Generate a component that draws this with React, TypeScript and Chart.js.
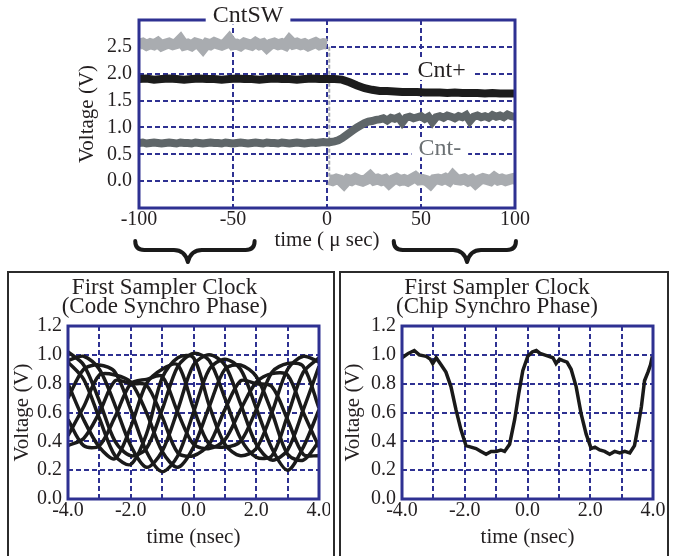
import React, { useEffect, useRef } from 'react';
import { Chart, registerables } from 'chart.js';

Chart.register(...registerables);

const NAVY = '#2e3192';
const INK = '#231f20';
const SERIF = '"Liberation Serif", "Times New Roman", Times, serif';

// ---------- Top chart data (time in µs, voltage in V) ----------
const TOP_X_MIN = -100;
const TOP_X_MAX = 100;
const TOP_Y_MIN = -0.5;
const TOP_Y_MAX = 3.0;
const TOP_Y_LABELLED = [0, 0.5, 1, 1.5, 2, 2.5];

// CntSW high state, from -100 µs every 2 µs
const SW_HIGH_START = -100;
const SW_HIGH_STEP = 2;
const SW_HIGH = [2.55, 2.57, 2.53, 2.56, 2.54, 2.58, 2.52, 2.55, 2.57, 2.54, 2.56, 2.63, 2.53, 2.55, 2.52, 2.57, 2.55,
  2.47, 2.56, 2.54, 2.58, 2.55, 2.53, 2.56, 2.64, 2.54, 2.55, 2.52, 2.57, 2.55, 2.53, 2.58, 2.54, 2.56, 2.49, 2.55,
  2.57, 2.54, 2.56, 2.53, 2.62, 2.55, 2.57, 2.54, 2.56, 2.52, 2.55, 2.58, 2.54, 2.56, 2.55];
// CntSW low state, from 1 µs every 2 µs
const SW_LOW_START = 1;
const SW_LOW_STEP = 2;
const SW_LOW = [0.03, 0.01, 0.04, 0.02, -0.05, 0.03, 0.01, 0.05, 0.02, 0.0, 0.03, 0.09, 0.02, 0.04, 0.01, 0.03, -0.04,
  0.02, 0.05, 0.01, 0.03, 0.0, 0.04, 0.08, 0.02, 0.03, 0.01, -0.05, 0.03, 0.04, 0.02, 0.05, 0.01, 0.1, 0.03, 0.02,
  0.04, 0.0, 0.03, -0.04, 0.02, 0.05, 0.03, 0.01, 0.07, 0.02, 0.04, 0.01, 0.03, 0.05, 0.02];
// CntSW switching edge
const SW_EDGE_T = [1.2, 1.2];
const SW_EDGE_V = [2.5, 0.05];

// Cnt+ from -100 µs every 4 µs
const CNTP_START = -100;
const CNTP_STEP = 4;
const CNTP = [1.9, 1.91, 1.89, 1.9, 1.91, 1.9, 1.89, 1.9, 1.91, 1.9, 1.9, 1.89, 1.9, 1.91, 1.9, 1.9, 1.89, 1.9,
  1.91, 1.9, 1.9, 1.89, 1.9, 1.91, 1.9, 1.9, 1.9, 1.89, 1.84, 1.78, 1.73, 1.7, 1.68, 1.68, 1.67, 1.66, 1.66, 1.66,
  1.65, 1.65, 1.65, 1.64, 1.65, 1.64, 1.64, 1.64, 1.63, 1.64, 1.63, 1.63, 1.63];

// Cnt- from -100 µs every 2 µs
const CNTM_START = -100;
const CNTM_STEP = 2;
const CNTM = [0.71, 0.72, 0.7, 0.71, 0.72, 0.71, 0.7, 0.71, 0.72, 0.71, 0.7, 0.72, 0.71, 0.71, 0.7, 0.72, 0.71, 0.7,
  0.71, 0.72, 0.71, 0.71, 0.7, 0.72, 0.71, 0.7, 0.71, 0.72, 0.71, 0.7, 0.71, 0.72, 0.71, 0.7, 0.72, 0.71, 0.71, 0.7,
  0.72, 0.71, 0.7, 0.71, 0.72, 0.71, 0.7, 0.71, 0.72, 0.71, 0.72, 0.73, 0.72,
  0.73, 0.74, 0.76, 0.8, 0.85, 0.9, 0.95, 1.0, 1.04, 1.08, 1.11, 1.12, 1.14, 1.15, 1.17, 1.13, 1.18, 1.16, 1.19, 1.09,
  1.18, 1.2, 1.17, 1.19, 1.21, 1.16, 1.2, 1.1, 1.19, 1.21, 1.18, 1.22, 1.2, 1.17, 1.21, 1.19, 1.23, 1.12, 1.2, 1.22,
  1.19, 1.21, 1.18, 1.23, 1.2, 1.22, 1.19, 1.24, 1.21, 1.2];

const TOP_LABELS = [
  { text: 'CntSW', x: -42, y: 3.1, color: INK },
  { text: 'Cnt+', x: 61, y: 2.07, color: INK },
  { text: 'Cnt-', x: 60, y: 0.63, color: '#6b7073' },
];
const BRACES = [
  { from: -102, to: -38.5, tip: -74 },
  { from: 35.5, to: 100.5, tip: 74.5 },
];

// ---------- Bottom-left: eye diagram, 8 traces from -4 ns every 0.5 ns ----------
const EYE_START = -4;
const EYE_STEP = 0.5;
const EYE_A = [1.02, 0.93, 0.68, 0.4, 0.3, 0.35, 0.62, 0.92, 1.01, 0.96, 0.7, 0.42, 0.29, 0.3, 0.58, 0.88, 0.98];
const EYE_B = [0.96, 0.99, 0.9, 0.65, 0.37, 0.22, 0.33, 0.62, 0.93, 1.0, 0.93, 0.66, 0.38, 0.27, 0.34, 0.62, 0.92];
const EYE_C = [0.7, 0.9, 0.93, 0.88, 0.62, 0.33, 0.19, 0.3, 0.6, 0.9, 0.97, 0.9, 0.63, 0.35, 0.2, 0.36, 0.62];
const EYE_D = [0.44, 0.64, 0.86, 0.86, 0.81, 0.6, 0.33, 0.22, 0.36, 0.64, 0.9, 0.93, 0.85, 0.6, 0.31, 0.27, 0.4];
const EYE_E = [0.37, 0.42, 0.6, 0.82, 0.8, 0.79, 0.57, 0.32, 0.3, 0.38, 0.62, 0.82, 0.8, 0.78, 0.55, 0.31, 0.3];
const EYE_F = [0.55, 0.37, 0.37, 0.57, 0.8, 0.83, 0.85, 0.6, 0.38, 0.35, 0.41, 0.62, 0.81, 0.87, 0.86, 0.6, 0.36];
const EYE_G = [0.8, 0.55, 0.36, 0.28, 0.5, 0.8, 0.9, 0.93, 0.63, 0.38, 0.36, 0.4, 0.62, 0.88, 0.94, 0.92, 0.63];
const EYE_H = [0.95, 0.83, 0.56, 0.3, 0.24, 0.45, 0.84, 0.98, 0.98, 0.65, 0.38, 0.3, 0.35, 0.6, 0.9, 0.99, 0.95];
const EYE_TRACES = [EYE_A, EYE_B, EYE_C, EYE_D, EYE_E, EYE_F, EYE_G, EYE_H];

// ---------- Bottom-right: chip synchro phase ----------
const CHIP_T = [-4.0, -3.93, -3.8, -3.61, -3.45, -3.23, -3.1, -3.02, -2.91, -2.75, -2.6, -2.44, -2.28, -2.12, -1.96,
  -1.8, -1.64, -1.48, -1.32, -1.16, -1.0, -0.85, -0.73, -0.57, -0.41, -0.28, -0.15, 0.01, 0.15, 0.28, 0.4, 0.54, 0.68,
  0.81, 0.91, 1.02, 1.13, 1.26, 1.39, 1.55, 1.71, 1.87, 2.03, 2.15, 2.3, 2.46, 2.62, 2.78, 2.94, 3.1, 3.26, 3.41, 3.52,
  3.63, 3.73, 3.84, 3.92, 3.98];
const CHIP_V = [0.98, 0.99, 1.01, 1.03, 1.0, 0.99, 0.97, 0.94, 0.98, 0.93, 0.88, 0.78, 0.62, 0.48, 0.37, 0.36, 0.35,
  0.33, 0.31, 0.33, 0.33, 0.34, 0.33, 0.38, 0.55, 0.73, 0.89, 0.99, 1.02, 1.03, 1.01, 1.0, 0.99, 0.98, 0.94, 0.97,
  0.96, 0.95, 0.9, 0.78, 0.59, 0.45, 0.35, 0.36, 0.34, 0.33, 0.31, 0.33, 0.32, 0.33, 0.32, 0.37, 0.5, 0.64, 0.82,
  0.88, 0.93, 0.99];

const BOTTOM_X_MIN = -4;
const BOTTOM_X_MAX = 4;
const BOTTOM_Y_MIN = 0;
const BOTTOM_Y_MAX = 1.2;

// ---------- helpers ----------
const stepped = (start: number, step: number, vals: number[]) => vals.map((v, i) => ({ x: start + step * i, y: v }));
const zipped = (ts: number[], vs: number[]) => ts.map((t, i) => ({ x: t, y: vs[i] }));

const framePlugin = {
  id: 'frame',
  afterDatasetsDraw(chart: any) {
    const { ctx, chartArea: a } = chart;
    ctx.save();
    ctx.strokeStyle = NAVY;
    ctx.lineWidth = 3;
    ctx.strokeRect(a.left, a.top, a.right - a.left, a.bottom - a.top);
    ctx.restore();
  },
};

const topExtrasPlugin = {
  id: 'topExtras',
  afterDraw(chart: any) {
    const { ctx, chartArea, scales } = chart;
    const xs = scales.x;
    const ys = scales.y;
    ctx.save();
    ctx.font = `24px ${SERIF}`;
    TOP_LABELS.forEach((l) => {
      const px = xs.getPixelForValue(l.x);
      const py = ys.getPixelForValue(l.y);
      const w = ctx.measureText(l.text).width + 14;
      ctx.fillStyle = '#ffffff';
      ctx.fillRect(px - w / 2, py - 10, w, 20);
      ctx.fillStyle = l.color;
      ctx.textAlign = 'center';
      ctx.textBaseline = 'middle';
      ctx.fillText(l.text, px, py + 1);
    });
    const yTop = chartArea.bottom + 33;
    const yMid = chartArea.bottom + 42;
    const yTip = chartArea.bottom + 54;
    ctx.strokeStyle = '#1a1a1a';
    ctx.lineWidth = 4;
    ctx.lineCap = 'round';
    ctx.lineJoin = 'round';
    BRACES.forEach((b) => {
      const x0 = xs.getPixelForValue(b.from);
      const x1 = xs.getPixelForValue(b.to);
      const xt = xs.getPixelForValue(b.tip);
      ctx.beginPath();
      ctx.moveTo(x0, yTop);
      ctx.quadraticCurveTo(x0, yMid, x0 + 9, yMid);
      ctx.lineTo(xt - 14, yMid);
      ctx.quadraticCurveTo(xt - 3, yMid, xt, yTip);
      ctx.quadraticCurveTo(xt + 3, yMid, xt + 14, yMid);
      ctx.lineTo(x1 - 9, yMid);
      ctx.quadraticCurveTo(x1, yMid, x1, yTop);
      ctx.stroke();
    });
    ctx.restore();
  },
};

const tickFont = { family: SERIF, size: 20 };
const axisTitleFont = { family: SERIF, size: 21 };
const GRID = { color: NAVY, lineWidth: 2, drawTicks: false };
const GRID_BORDER = { display: false, dash: [5, 3] };

function topConfig(): any {
  return {
    type: 'line',
    data: {
      datasets: [
        { data: stepped(CNTP_START, CNTP_STEP, CNTP), borderColor: '#1c1c1c', borderWidth: 8 },
        { data: stepped(CNTM_START, CNTM_STEP, CNTM), borderColor: '#5f6669', borderWidth: 8 },
        { data: stepped(SW_HIGH_START, SW_HIGH_STEP, SW_HIGH), borderColor: '#a9acb0', borderWidth: 11 },
        { data: stepped(SW_LOW_START, SW_LOW_STEP, SW_LOW), borderColor: '#a9acb0', borderWidth: 11 },
        { data: zipped(SW_EDGE_T, SW_EDGE_V), borderColor: '#a9acb0', borderWidth: 2, borderDash: [4, 2] },
      ].map((d) => ({ ...d, pointRadius: 0, tension: 0, fill: false, clip: 0 })),
    },
    options: {
      animation: false,
      responsive: false,
      events: [],
      layout: { padding: { left: 75, right: 45, top: 20, bottom: 0 } },
      plugins: { legend: { display: false }, tooltip: { enabled: false } },
      scales: {
        x: {
          type: 'linear',
          min: TOP_X_MIN,
          max: TOP_X_MAX,
          afterFit: (s: any) => { s.height = 60; s.paddingLeft = 0; s.paddingRight = 0; },
          grid: GRID,
          border: GRID_BORDER,
          ticks: { stepSize: 50, autoSkip: false, maxRotation: 0, padding: 0, color: INK, font: tickFont,
            callback: (v: any) => String(v) },
          title: { display: true, text: 'time ( μ sec)', color: INK, font: axisTitleFont,
            padding: { top: 0, bottom: 15.4 } },
        },
        y: {
          type: 'linear',
          min: TOP_Y_MIN,
          max: TOP_Y_MAX,
          afterFit: (s: any) => { s.width = 64; s.paddingTop = 0; s.paddingBottom = 0; },
          grid: GRID,
          border: GRID_BORDER,
          ticks: { stepSize: 0.5, autoSkip: false, padding: 7, color: INK, font: tickFont,
            callback: (v: any) => (TOP_Y_LABELLED.some((t) => Math.abs(t - v) < 1e-6) ? Number(v).toFixed(1) : '') },
          title: { display: true, text: 'Voltage (V)', color: INK, font: axisTitleFont,
            padding: { top: 0, bottom: 0 } },
        },
      },
    },
    plugins: [framePlugin, topExtrasPlugin],
  };
}

function bottomConfig(datasets: any[], title: string[], yWidth: number, rightPad: number): any {
  return {
    type: 'line',
    data: { datasets: datasets.map((d) => ({ pointRadius: 0, fill: false, clip: 0, ...d })) },
    options: {
      animation: false,
      responsive: false,
      events: [],
      layout: { padding: { left: 0, right: rightPad, top: 0, bottom: 0 } },
      plugins: {
        legend: { display: false },
        tooltip: { enabled: false },
        title: {
          display: true,
          text: title,
          color: INK,
          font: { family: SERIF, size: 23, weight: 'normal', lineHeight: 0.82 },
          padding: { top: 4.5, bottom: 9.8 },
        },
      },
      scales: {
        x: {
          type: 'linear',
          min: BOTTOM_X_MIN,
          max: BOTTOM_X_MAX,
          afterFit: (s: any) => { s.height = 55; s.paddingLeft = 0; s.paddingRight = 0; },
          grid: GRID,
          border: GRID_BORDER,
          ticks: { stepSize: 1, autoSkip: false, maxRotation: 0, padding: 0, color: INK, font: tickFont,
            callback: (v: any) => (Math.abs(Math.round(v) % 2) === 0 ? Number(v).toFixed(1) : '') },
          title: { display: true, text: 'time (nsec)', color: INK, font: axisTitleFont,
            padding: { top: 0, bottom: 4.4 } },
        },
        y: {
          type: 'linear',
          min: BOTTOM_Y_MIN,
          max: BOTTOM_Y_MAX,
          afterFit: (s: any) => { s.width = yWidth; s.paddingTop = 0; s.paddingBottom = 0; },
          grid: GRID,
          border: GRID_BORDER,
          ticks: { stepSize: 0.2, autoSkip: false, padding: 6, color: INK, font: tickFont,
            callback: (v: any) => Number(v).toFixed(1) },
          title: { display: true, text: 'Voltage (V)', color: INK, font: axisTitleFont,
            padding: { top: 0, bottom: 0 } },
        },
      },
    },
    plugins: [framePlugin],
  };
}

function ChartCanvas(props: { make: () => any; left: number; top: number; width: number; height: number }) {
  const ref = useRef<HTMLCanvasElement | null>(null);
  useEffect(() => {
    if (!ref.current) return;
    const chart = new Chart(ref.current, props.make());
    return () => chart.destroy();
  }, []);
  return (
    <canvas
      ref={ref}
      width={props.width}
      height={props.height}
      style={{ position: 'absolute', left: props.left, top: props.top, width: props.width, height: props.height }}
    />
  );
}

export default function App() {
  const eyeSets = EYE_TRACES.map((tr) => ({
    data: stepped(EYE_START, EYE_STEP, tr),
    borderColor: '#1a1a1a',
    borderWidth: 3.5,
    tension: 0.3,
  }));
  const chipSets = [{ data: zipped(CHIP_T, CHIP_V), borderColor: '#1a1a1a', borderWidth: 3.5, tension: 0 }];
  const box = { position: 'absolute' as const, border: '2.5px solid #2b2b2b', boxSizing: 'border-box' as const, height: 320 };
  return (
    <div style={{ position: 'fixed', left: 0, top: 0, width: 676, height: 556, overflow: 'hidden', background: '#fff' }}>
      <div style={{ ...box, left: 7, top: 270.5, width: 327.5 }} />
      <div style={{ ...box, left: 338.5, top: 270.5, width: 330 }} />
      <ChartCanvas make={topConfig} left={0} top={0} width={560} height={268} />
      <ChartCanvas
        make={() => bottomConfig(eyeSets, ['First Sampler Clock', '(Code Synchro Phase)'], 58, 11)}
        left={10} top={274} width={320} height={280}
      />
      <ChartCanvas
        make={() => bottomConfig(chipSets, ['First Sampler Clock', '(Chip Synchro Phase)'], 61, 15)}
        left={341} top={274} width={327} height={280}
      />
    </div>
  );
}
